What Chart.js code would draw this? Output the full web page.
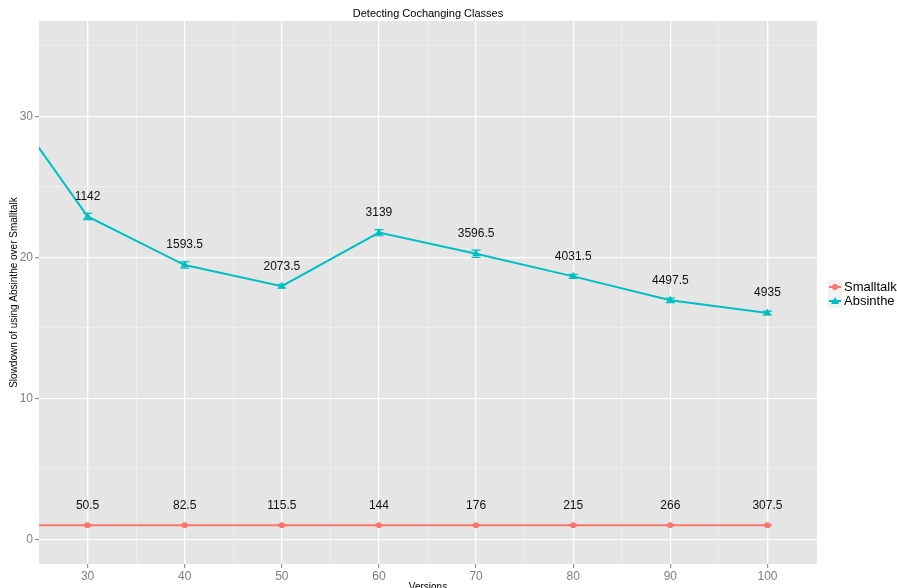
<!DOCTYPE html>
<html>
<head>
<meta charset="utf-8">
<script src="https://cdn.jsdelivr.net/npm/chart.js@4"></script>
<style>
  html, body { margin: 0; padding: 0; background: #fff; }
  #wrap { width: 897px; height: 588px; position: relative; }
</style>
</head>
<body>
<div id="wrap"><canvas id="c" width="897" height="588"></canvas></div>
<script>
// Versions sampled (20 lies left of the visible range and is clipped)
const versions = [20, 30, 40, 50, 60, 70, 80, 90, 100];

// Slowdown ratios
const smalltalkValues = [1, 1, 1, 1, 1, 1, 1, 1, 1];
const absintheValues  = [32.6, 22.9, 19.45, 17.95, 21.75, 20.25, 18.65, 16.95, 16.05];

// Error half-widths
const smalltalkErrors = [0.03, 0.03, 0.03, 0.03, 0.03, 0.03, 0.03, 0.03, 0.03];
const absintheErrors  = [0.25, 0.22, 0.22, 0.14, 0.22, 0.26, 0.14, 0.16, 0.14];

// Run times shown above the points
const smalltalkLabels = [null, '50.5', '82.5', '115.5', '144', '176', '215', '266', '307.5'];
const absintheLabels  = [null, '1142', '1593.5', '2073.5', '3139', '3596.5', '4031.5', '4497.5', '4935'];

const xTicks = [30, 35, 40, 45, 50, 55, 60, 65, 70, 75, 80, 85, 90, 95, 100];
const yTicks = [0, 5, 10, 15, 20, 25, 30, 35];

const seriesNames = ['Smalltalk', 'Absinthe'];
const seriesColors = ['#F8766D', '#00BFC4'];

const FONT = '"Liberation Sans", Arial, Helvetica, sans-serif';

const toPoints = (vals) => versions.map((v, i) => ({ x: v, y: vals[i] }));

const isMajor = (v) => v % 10 === 0;

const decorations = {
  id: 'decorations',
  beforeDraw(chart) {
    const { ctx, chartArea: a } = chart;
    ctx.save();
    ctx.fillStyle = '#E5E5E5';
    ctx.fillRect(a.left, a.top, a.right - a.left, a.bottom - a.top);
    ctx.restore();
  },
  afterDatasetsDraw(chart) {
    const { ctx, chartArea: a, scales } = chart;
    const xs = scales.x, ys = scales.y;
    const errs = [smalltalkErrors, absintheErrors];
    const vals = [smalltalkValues, absintheValues];
    const labs = [smalltalkLabels, absintheLabels];

    // error bars
    ctx.save();
    ctx.beginPath();
    ctx.rect(a.left, a.top, a.right - a.left, a.bottom - a.top);
    ctx.clip();
    for (let s = 0; s < 2; s++) {
      ctx.strokeStyle = seriesColors[s];
      ctx.lineWidth = 1.2;
      versions.forEach((v, i) => {
        const px = xs.getPixelForValue(v);
        const y1 = ys.getPixelForValue(vals[s][i] + errs[s][i]);
        const y2 = ys.getPixelForValue(vals[s][i] - errs[s][i]);
        ctx.beginPath();
        ctx.moveTo(px, y1); ctx.lineTo(px, y2);
        ctx.moveTo(px - 4.5, y1); ctx.lineTo(px + 4.5, y1);
        ctx.moveTo(px - 4.5, y2); ctx.lineTo(px + 4.5, y2);
        ctx.stroke();
      });
    }
    ctx.restore();

    // value labels
    ctx.save();
    ctx.fillStyle = '#111';
    ctx.font = '12px ' + FONT;
    ctx.textAlign = 'center';
    ctx.textBaseline = 'middle';
    for (let s = 0; s < 2; s++) {
      versions.forEach((v, i) => {
        if (!labs[s][i]) return;
        const px = xs.getPixelForValue(v);
        const py = ys.getPixelForValue(vals[s][i]) - 20;
        ctx.fillText(labs[s][i], px, py);
      });
    }
    ctx.restore();
  },
  afterDraw(chart) {
    const { ctx, chartArea: a } = chart;
    ctx.save();
    // title
    ctx.fillStyle = '#000';
    ctx.font = '11px ' + FONT;
    ctx.textAlign = 'center';
    ctx.textBaseline = 'middle';
    ctx.fillText('Detecting Cochanging Classes', (a.left + a.right) / 2, 14);

    // x axis title
    ctx.font = '10px ' + FONT;
    ctx.fillText('Versions', (a.left + a.right) / 2, 587);

    // y axis title
    ctx.save();
    ctx.translate(14, (a.top + a.bottom) / 2);
    ctx.rotate(-Math.PI / 2);
    ctx.fillText('Slowdown of using Absinthe over Smalltalk', 0, 0);
    ctx.restore();

    // legend
    const kx = 828, kw = 14, kh = 14;
    seriesNames.forEach((name, i) => {
      const ky = 280 + i * kh;
      ctx.fillStyle = '#F2F2F2';
      ctx.fillRect(kx, ky, kw, kh);
      ctx.strokeStyle = seriesColors[i];
      ctx.lineWidth = 2;
      ctx.beginPath();
      ctx.moveTo(kx + 1, ky + kh / 2);
      ctx.lineTo(kx + kw - 1, ky + kh / 2);
      ctx.stroke();
      ctx.fillStyle = seriesColors[i];
      const cx = kx + kw / 2, cy = ky + kh / 2;
      ctx.beginPath();
      if (i === 0) {
        ctx.arc(cx, cy, 3, 0, Math.PI * 2);
      } else {
        ctx.moveTo(cx, cy - 4);
        ctx.lineTo(cx + 4, cy + 3);
        ctx.lineTo(cx - 4, cy + 3);
        ctx.closePath();
      }
      ctx.fill();
      ctx.fillStyle = '#000';
      ctx.font = '13px ' + FONT;
      ctx.textAlign = 'left';
      ctx.fillText(name, kx + kw + 2, cy);
    });
    ctx.restore();
  }
};

const gridOpts = {
  color: (c) => (c.tick && isMajor(c.tick.value)) ? '#FFFFFF' : '#F2F2F2',
  lineWidth: (c) => (c.tick && isMajor(c.tick.value)) ? 1.3 : 0.7,
  tickColor: (c) => (c.tick && isMajor(c.tick.value)) ? '#7F7F7F' : 'rgba(0,0,0,0)',
  tickWidth: 1,
  tickLength: 4,
  drawOnChartArea: true,
  drawTicks: true
};

new Chart(document.getElementById('c'), {
  type: 'line',
  data: {
    datasets: [
      {
        label: seriesNames[0],
        data: toPoints(smalltalkValues),
        borderColor: seriesColors[0],
        backgroundColor: seriesColors[0],
        borderWidth: 2,
        pointStyle: 'circle',
        pointRadius: 3,
        pointBorderWidth: 0,
        tension: 0
      },
      {
        label: seriesNames[1],
        data: toPoints(absintheValues),
        borderColor: seriesColors[1],
        backgroundColor: seriesColors[1],
        borderWidth: 2,
        pointStyle: 'triangle',
        pointRadius: 4.5,
        pointBorderWidth: 0,
        tension: 0
      }
    ]
  },
  options: {
    responsive: false,
    animation: false,
    devicePixelRatio: 1,
    layout: { padding: { top: 21, right: 80, left: 0, bottom: 0 } },
    plugins: {
      legend: { display: false },
      title: { display: false },
      tooltip: { enabled: false }
    },
    scales: {
      x: {
        type: 'linear',
        min: 25,
        max: 105.1,
        afterFit: (s) => { s.height = 24; },
        afterBuildTicks: (s) => { s.ticks = xTicks.map(v => ({ value: v })); },
        grid: gridOpts,
        border: { display: false },
        ticks: {
          padding: 1,
          color: '#7F7F7F',
          font: { family: FONT, size: 12 },
          maxRotation: 0,
          autoSkip: false,
          callback: (v) => isMajor(v) ? String(v) : ''
        }
      },
      y: {
        type: 'linear',
        min: -1.75,
        max: 36.76,
        afterFit: (s) => { s.width = 39; },
        afterBuildTicks: (s) => { s.ticks = yTicks.map(v => ({ value: v })); },
        grid: gridOpts,
        border: { display: false },
        ticks: {
          padding: 2,
          color: '#7F7F7F',
          font: { family: FONT, size: 12 },
          autoSkip: false,
          callback: (v) => isMajor(v) ? String(v) : ''
        }
      }
    }
  },
  plugins: [decorations]
});
</script>
</body>
</html>
